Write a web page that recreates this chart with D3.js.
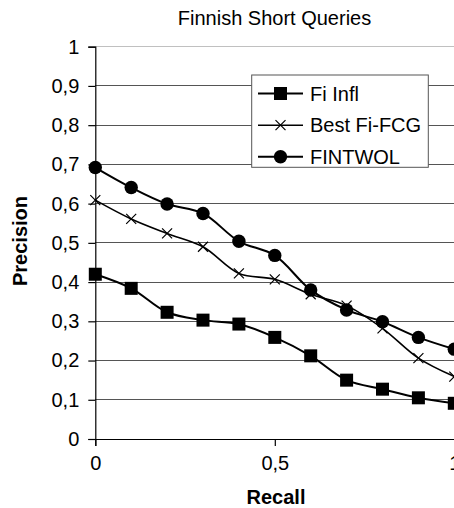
<!DOCTYPE html>
<html><head><meta charset="utf-8">
<script src="https://cdn.jsdelivr.net/npm/d3@7"></script>
<style>body{margin:0;background:#fff}svg{display:block}text{font-family:"Liberation Sans",Arial,sans-serif}</style>
</head><body><svg id="c" width="454" height="508"></svg>
<script>
const recall = [0,0.1,0.2,0.3,0.4,0.5,0.6,0.7,0.8,0.9,1.0];
const fiInfl = [0.420,0.384,0.323,0.303,0.293,0.259,0.212,0.150,0.127,0.105,0.091];
const bestFiFCG = [0.609,0.561,0.524,0.490,0.422,0.407,0.369,0.340,0.282,0.206,0.159];
const fintwol = [0.692,0.641,0.599,0.575,0.504,0.468,0.380,0.329,0.299,0.259,0.229];
const seriesNames = ["Fi Infl","Best Fi-FCG","FINTWOL"];
const markers = ["square","cross","circle"];
const yTicks = [0,0.1,0.2,0.3,0.4,0.5,0.6,0.7,0.8,0.9,1];
const xTicks = [0,0.5,1];
const series = [fiInfl,bestFiFCG,fintwol].map((v,i)=>({name:seriesNames[i],marker:markers[i],values:v.map((y,j)=>({x:recall[j],y}))}));

const svg = d3.select("#c");
const x = d3.scaleLinear().domain([0,1]).range([95.3,454.3]);
const y = d3.scaleLinear().domain([0,1]).range([439,46.7]);
const fmt = d => String(d).replace(".",",");

// gridlines
svg.append("g").selectAll("line").data(yTicks.filter(d=>d>0)).join("line")
  .attr("x1",x(0)).attr("x2",454).attr("y1",d=>y(d)).attr("y2",d=>y(d))
  .attr("stroke",d=>d===1?"#c0c0c0":"#555").attr("stroke-width",1).attr("shape-rendering","crispEdges");

// axes
const yAxis = svg.append("g").attr("transform",`translate(${x(0)},0)`)
  .call(d3.axisLeft(y).tickValues(yTicks).tickFormat(fmt).tickSizeOuter(0).tickSize(7).tickPadding(9));
const xAxis = svg.append("g").attr("transform",`translate(0,${y(0)})`)
  .call(d3.axisBottom(x).tickValues(xTicks).tickFormat(fmt).tickSizeOuter(0).tickSize(7).tickPadding(10));
[yAxis,xAxis].forEach(a=>{
  a.select(".domain").attr("stroke","#000").attr("stroke-width",1.2);
  a.selectAll(".tick line").attr("stroke","#000").attr("stroke-width",1.2);
  a.selectAll("text").attr("font-size",20).attr("fill","#000").style("font-family","'Liberation Sans',Arial,sans-serif");
});

// lines
const line = d3.line().x(d=>x(d.x)).y(d=>y(d.y)).curve(d3.curveCatmullRom.alpha(0.5));
function drawMarker(g,type,cx,cy){
  if(type==="square") g.append("rect").attr("x",cx-6.5).attr("y",cy-6.5).attr("width",13).attr("height",13).attr("fill","#000");
  else if(type==="circle") g.append("circle").attr("cx",cx).attr("cy",cy).attr("r",6.7).attr("fill","#000");
  else g.append("path").attr("d",`M${cx-5},${cy-5}L${cx+5},${cy+5}M${cx-5},${cy+5}L${cx+5},${cy-5}`).attr("stroke","#000").attr("stroke-width",1.2).attr("fill","none");
}
series.forEach(s=>{
  svg.append("path").datum(s.values).attr("d",line).attr("fill","none").attr("stroke","#000")
    .attr("stroke-width",s.marker==="cross"?1.6:2);
  const g = svg.append("g");
  s.values.forEach(d=>drawMarker(g,s.marker,x(d.x),y(d.y)));
});

// title
svg.append("text").attr("x",274.5).attr("y",25).attr("text-anchor","middle").attr("font-size",20).text("Finnish Short Queries");
// axis titles
svg.append("text").attr("x",276).attr("y",504).attr("text-anchor","middle").attr("font-size",20).attr("font-weight","bold").text("Recall");
svg.append("text").attr("transform","translate(26.5,241) rotate(-90)").attr("text-anchor","middle").attr("font-size",20).attr("font-weight","bold").text("Precision");

// legend
const lg = svg.append("g");
lg.append("rect").attr("x",251.7).attr("y",75).attr("width",176.6).attr("height",92.3).attr("fill","#fff").attr("stroke","#555").attr("stroke-width",1);
const ly = [93.5,125.2,156.8];
series.forEach((s,i)=>{
  lg.append("line").attr("x1",258).attr("x2",303).attr("y1",ly[i]).attr("y2",ly[i]).attr("stroke","#000").attr("stroke-width",s.marker==="cross"?1.6:2);
  drawMarker(lg,s.marker,280.5,ly[i]);
  lg.append("text").attr("x",310).attr("y",ly[i]+7).attr("font-size",20).text(s.name);
});
</script></body></html>
